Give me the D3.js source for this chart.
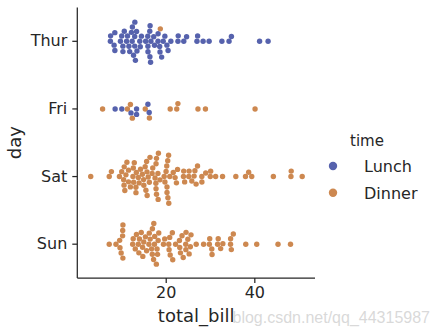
<!DOCTYPE html>
<html>
<head>
<meta charset="utf-8">
<script src="https://cdn.jsdelivr.net/npm/d3@7"></script>
<style>
  html, body { margin: 0; padding: 0; background: #ffffff; }
  svg { display: block; }
</style>
</head>
<body>
<div id="chart"></div>
<script>
// ---- data (tips dataset: total_bill by day, hue = time) ----
const days = ["Thur", "Fri", "Sat", "Sun"];
const timeLevels = ["Lunch", "Dinner"];
const xTicks = [20, 40];

const thurLunch = [27.20, 22.76, 17.29, 19.44, 16.66, 10.07, 32.68, 15.98, 34.83, 13.03, 18.28, 24.71, 21.16,
  10.65, 12.43, 24.08, 11.69, 13.42, 14.26, 15.95, 12.48, 29.80, 8.52, 14.52, 11.38, 22.82, 19.08, 20.27,
  11.17, 12.26, 18.26, 8.51, 10.33, 14.15, 16.00, 13.16, 17.47, 34.30, 41.19, 27.05, 16.43, 8.35, 18.64,
  11.87, 9.78, 7.51,
  19.81, 28.44, 15.48, 16.58, 7.56, 10.34, 43.11, 13.00, 13.51, 18.71, 12.74, 13.00, 16.40, 20.53, 16.47];
const thurDinner = [18.78];
const friLunch = [12.16, 13.42, 8.58, 15.98, 13.42, 16.27, 10.09];
const friDinner = [28.97, 22.49, 5.75, 16.32, 22.75, 40.17, 27.28, 12.03, 21.01, 12.46, 11.35, 15.38];
const satDinner = [20.65, 17.92, 20.29, 15.77, 39.42, 19.82, 17.81, 13.37, 12.69, 21.70, 19.65, 9.55, 18.35,
  15.06, 20.69, 17.78, 24.06, 16.31, 16.93, 18.69, 31.27, 16.04,
  38.01, 26.41, 11.24, 48.27, 20.29, 13.81, 11.02, 18.29, 17.59, 20.08, 16.45, 3.07, 20.23, 15.01, 12.02,
  17.07, 26.86, 25.28, 14.73, 10.51, 17.92,
  44.30, 22.42, 20.92, 15.36, 20.49, 25.21, 18.24, 14.31, 14.00, 7.25,
  10.59, 10.63, 50.81, 15.81,
  26.59, 38.73, 24.27, 12.76, 30.06, 25.89, 48.33, 13.27, 28.17, 12.90, 28.15, 11.59, 7.74, 30.14,
  20.45, 13.28, 22.12, 24.01, 15.69, 11.61, 10.77, 15.53, 10.07, 12.60, 32.83, 35.83, 29.03, 27.18, 22.67, 17.82];
const sunDinner = [16.99, 10.34, 21.01, 23.68, 24.59, 25.29, 8.77, 26.88, 15.04, 14.78, 10.27, 35.26, 15.42,
  18.43, 14.83, 21.58, 10.33, 16.29, 16.97,
  17.46, 13.94, 9.68, 30.40, 18.29, 22.23, 32.40, 28.55, 18.04, 12.54, 10.29, 34.81, 9.94, 25.56, 19.49,
  38.07, 23.95, 25.71, 17.31, 29.93,
  14.07, 13.13, 17.26, 24.55, 19.77, 29.85, 48.17, 25.00, 13.39, 16.49, 21.50, 12.66, 16.21, 13.81, 17.51,
  24.52, 20.76, 31.71,
  7.25, 31.85, 16.82, 32.90, 17.89, 14.48, 9.60, 34.63, 34.65, 23.33, 45.35, 23.17, 40.55, 20.69, 20.90,
  30.46, 18.15, 23.10, 15.69];

const colors = { Lunch: "#5662ad", Dinner: "#cd8850" };

(function () {
// ---- layout ----
const W = 433, H = 335;
const mLeft = 77.3, mRight = 315, mTop = 7.5, mBottom = 278;
const ink = "#262626";
const font = "'DejaVu Sans', sans-serif";

const svg = d3.select("#chart").append("svg").attr("width", W).attr("height", H);

const x = d3.scaleLinear().domain([0.04, 53.7]).range([mLeft, mRight]);
const y = d3.scaleBand().domain(days).range([mTop, mBottom]).padding(0);
const yc = d => y(d) + y.bandwidth() / 2;

// group rows by day (data order)
const rowsByDay = {
  Thur: thurLunch.map(v => ({ v, t: "Lunch" })).concat(thurDinner.map(v => ({ v, t: "Dinner" }))),
  Fri: friDinner.map(v => ({ v, t: "Dinner" })).concat(friLunch.map(v => ({ v, t: "Lunch" }))),
  Sat: satDinner.map(v => ({ v, t: "Dinner" })),
  Sun: sunDinner.map(v => ({ v, t: "Dinner" }))
};

// seaborn-like beeswarm in pixel space
const R = 2.6, Rdraw = 2.7;
function beeswarm(rows) {
  const pts = rows.map((d, i) => ({ ...d, i, px: x(d.v), s: 0 }));
  const sorted = pts.slice().sort((a, b) => (a.px - b.px) || (a.i - b.i));
  const swarm = [];
  sorted.forEach((p, k) => {
    if (k === 0) { p.s = 0; swarm.push(p); return; }
    const nb = [];
    for (let j = swarm.length - 1; j >= 0; j--) {
      if (p.px - swarm[j].px < 2 * R) nb.push(swarm[j]); else break;
    }
    nb.reverse();
    const cands = [0];
    let leftFirst = true;
    nb.forEach(q => {
      const dy = p.px - q.px;
      const dx = Math.sqrt(Math.max(4 * R * R - dy * dy, 0)) * 1.05;
      const cl = q.s - dx, cr = q.s + dx;
      if (leftFirst) cands.push(cl, cr); else cands.push(cr, cl);
      leftFirst = !leftFirst;
    });
    const order = cands.map((c, i) => ({ c, i }))
      .sort((a, b) => (Math.abs(a.c) - Math.abs(b.c)) || (a.i - b.i));
    for (const o of order) {
      const ok = nb.every(q => (q.px - p.px) ** 2 + (q.s - o.c) ** 2 >= 4 * R * R - 1e-9);
      if (ok) { p.s = o.c; break; }
    }
    swarm.push(p);
  });
  const lim = 0.4 * y.bandwidth();
  pts.forEach(p => { p.s = Math.max(-lim, Math.min(lim, p.s)); });
  return pts;
}

// axes spines
svg.append("line").attr("x1", mLeft).attr("x2", mLeft).attr("y1", mTop).attr("y2", mBottom)
  .attr("stroke", ink).attr("stroke-width", 1.25);
svg.append("line").attr("x1", mLeft).attr("x2", mRight).attr("y1", mBottom).attr("y2", mBottom)
  .attr("stroke", ink).attr("stroke-width", 1.25);

// x axis
const gx = svg.append("g").attr("transform", `translate(0,${mBottom})`)
  .call(d3.axisBottom(x).tickValues(xTicks).tickFormat(d3.format("d")).tickSize(5).tickPadding(4));
gx.select(".domain").remove();
gx.selectAll(".tick line").attr("stroke", ink).attr("stroke-width", 1.25);
gx.selectAll(".tick text").attr("fill", ink).attr("font-family", font).attr("font-size", 16);

// y axis
const gy = svg.append("g").attr("transform", `translate(${mLeft},0)`)
  .call(d3.axisLeft(y).tickSize(5).tickPadding(5));
gy.select(".domain").remove();
gy.selectAll(".tick line").attr("stroke", ink).attr("stroke-width", 1.25);
gy.selectAll(".tick text").attr("fill", ink).attr("font-family", font).attr("font-size", 16);

// axis labels
svg.append("text").attr("x", (mLeft + mRight) / 2).attr("y", 322)
  .attr("text-anchor", "middle").attr("fill", ink).attr("font-family", font).attr("font-size", 18)
  .text("total_bill");
svg.append("text").attr("transform", `translate(21,${(mTop + mBottom) / 2}) rotate(-90)`)
  .attr("text-anchor", "middle").attr("fill", ink).attr("font-family", font).attr("font-size", 18)
  .text("day");

// points (swarm computed before the categorical axis is inverted, so offsets are mirrored)
days.forEach(day => {
  const pts = beeswarm(rowsByDay[day]);
  svg.append("g").selectAll("circle").data(pts).join("circle")
    .attr("cx", d => d.px)
    .attr("cy", d => yc(day) + d.s)
    .attr("r", Rdraw)
    .attr("fill", d => colors[d.t]);
});

// legend
const lg = svg.append("g");
lg.append("text").attr("x", 367).attr("y", 146).attr("text-anchor", "middle")
  .attr("fill", ink).attr("font-family", font).attr("font-size", 15).text("time");
timeLevels.forEach((t, i) => {
  const cy = 166 + i * 26.7;
  lg.append("circle").attr("cx", 333).attr("cy", cy).attr("r", 4.2).attr("fill", colors[t]);
  lg.append("text").attr("x", 364).attr("y", cy + 5.8)
    .attr("fill", ink).attr("font-family", font).attr("font-size", 16).text(t);
});

// watermark
svg.append("text").attr("x", 430).attr("y", 323).attr("text-anchor", "end")
  .attr("fill", "#d2d2d2").attr("fill-opacity", 0.85)
  .attr("font-family", "'Liberation Sans', Arial, sans-serif").attr("font-size", 16)
  .text("blog.csdn.net/qq_44315987");
})();
</script>
</body>
</html>
